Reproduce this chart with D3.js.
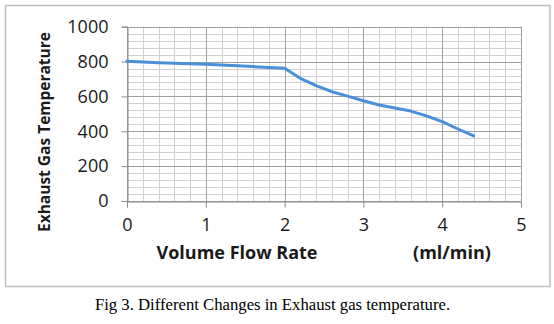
<!DOCTYPE html>
<html><head><meta charset="utf-8">
<script src="https://cdn.jsdelivr.net/npm/d3@7"></script>
<style>body{margin:0;background:#fff}svg{display:block}</style>
</head><body>
<script>
const flowRate = [0,0.2,0.4,0.6,0.8,1.0,1.2,1.4,1.6,1.8,2.0,2.2,2.4,2.6,2.8,3.0,3.2,3.4,3.6,3.8,4.0,4.2,4.4];
const temperature = [802,797,793,790,787,784,780,776,771,766,762,704,662,627,602,575,551,534,516,488,455,413,373];
const xTicks = [0,1,2,3,4,5];
const yTicks = [0,200,400,600,800,1000];
const xTitle = "Volume Flow Rate";
const xUnit = "(ml/min)";
const yTitle = "Exhaust Gas Temperature";
const caption = "Fig 3. Different Changes in Exhaust gas temperature.";

const W=554,H=324;
const sans="'Open Sans', sans-serif";
const svg=d3.select("body").append("svg").attr("width",W).attr("height",H);
svg.append("rect").attr("x",5.5).attr("y",5.5).attr("width",544.5).attr("height",281).attr("fill","#fff").attr("stroke","#bfbfbf").attr("stroke-width",1.5);

const x=d3.scaleLinear().domain([0,5]).range([127,521]);
const y=d3.scaleLinear().domain([0,1000]).range([201,26.7]);

const g=svg.append("g");
const xMinor=d3.range(0,5.0001,0.2), yMinor=d3.range(0,1000.1,40);
g.selectAll(".vx").data(xMinor).enter().append("line")
 .attr("x1",d=>Math.round(x(d))+0.5).attr("x2",d=>Math.round(x(d))+0.5).attr("y1",y(1000)).attr("y2",y(0))
 .attr("stroke","#d0d0d0").attr("stroke-width",1);
g.selectAll(".hy").data(yMinor).enter().append("line")
 .attr("y1",d=>Math.round(y(d))+0.5).attr("y2",d=>Math.round(y(d))+0.5).attr("x1",x(0)).attr("x2",x(5))
 .attr("stroke","#d0d0d0").attr("stroke-width",1);
g.selectAll(".mx").data(xTicks).enter().append("line")
 .attr("x1",d=>Math.round(x(d))+0.5).attr("x2",d=>Math.round(x(d))+0.5).attr("y1",y(1000)).attr("y2",y(0))
 .attr("stroke","#a0a0a0").attr("stroke-width",1);
g.selectAll(".my").data(yTicks).enter().append("line")
 .attr("y1",d=>Math.round(y(d))+0.5).attr("y2",d=>Math.round(y(d))+0.5).attr("x1",x(0)).attr("x2",x(5))
 .attr("stroke","#a0a0a0").attr("stroke-width",1);

const xa=svg.append("g").attr("transform",`translate(0,${Math.round(y(0))+0.5})`)
 .call(d3.axisBottom(x).tickValues(xTicks).tickSize(6).tickPadding(11).tickFormat(d3.format("d")));
const ya=svg.append("g").attr("transform",`translate(${Math.round(x(0))+0.5},0)`)
 .call(d3.axisLeft(y).tickValues(yTicks).tickSize(6).tickPadding(13).tickFormat(d3.format("d")));
[xa,ya].forEach(a=>{
 a.select(".domain").attr("stroke","#8c8c8c");
 a.selectAll(".tick line").attr("stroke","#8c8c8c");
 a.selectAll("text").attr("font-family",sans).attr("font-size",18).attr("fill","#1a1a1a");
});

const data=flowRate.map((f,i)=>[f,temperature[i]]);
svg.append("path").datum(data).attr("fill","none").attr("stroke","#4a8fd8").attr("stroke-width",3)
 .attr("stroke-linejoin","round").attr("stroke-linecap","round")
 .attr("d",d3.line().x(d=>x(d[0])).y(d=>y(d[1])));

svg.append("text").attr("x",237).attr("y",259).attr("text-anchor","middle")
 .attr("font-family",sans).attr("font-weight","bold").attr("font-size",18).attr("fill","#1a1a1a").text(xTitle);
svg.append("text").attr("x",452).attr("y",259).attr("text-anchor","middle")
 .attr("font-family",sans).attr("font-weight","bold").attr("font-size",18).attr("fill","#1a1a1a").text(xUnit);
svg.append("text").attr("transform","translate(50,132) rotate(-90)").attr("text-anchor","middle")
 .attr("font-family",sans).attr("font-weight","bold").attr("font-size",15.5).attr("fill","#1a1a1a").text(yTitle);
svg.append("text").attr("x",272.5).attr("y",310).attr("text-anchor","middle")
 .attr("font-family","'Liberation Serif', 'Times New Roman', serif").attr("font-size",16.7).attr("fill","#000").text(caption);
</script>
</body></html>
